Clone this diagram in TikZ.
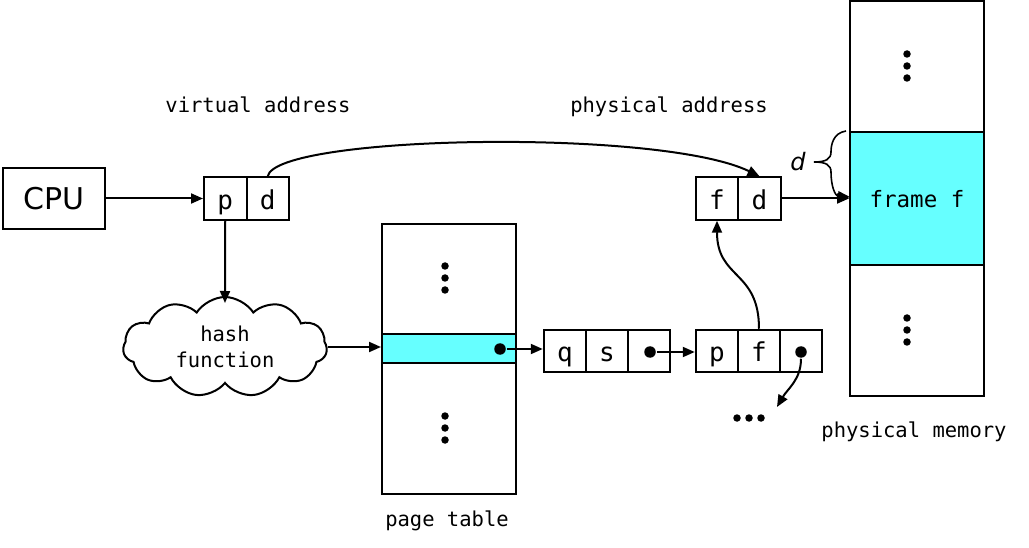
\documentclass[tikz,border=0pt]{standalone}
\usepackage{fontspec}
\setmainfont{DejaVu Sans}
\setmonofont{DejaVu Sans Mono}
\usetikzlibrary{arrows.meta,shapes.symbols}
\definecolor{hilite}{HTML}{66FFFF}
\begin{document}
\begin{tikzpicture}[x=1pt,y=-1pt,
  line width=2pt,
  tip/.style={-{Triangle[length=12pt,width=10pt]}},
  cell/.style={draw, line width=2pt, minimum width=42.5pt, minimum height=42.5pt,
    inner sep=0pt, text height=22pt, text depth=0pt, font=\fontsize{26}{26}\selectfont\ttfamily},
  block/.style={draw, line width=2pt, inner sep=0pt},
  lbl/.style={anchor=base, inner sep=0pt, font=\fontsize{20.5}{24}\selectfont\ttfamily},
  vdot/.style={circle, fill, inner sep=0pt, minimum size=7.5pt},
  ptr/.style={circle, fill, inner sep=0pt, minimum size=11.5pt}]
\useasboundingbox (0,0) rectangle (1029,548);

% CPU
\node[block, minimum width=102pt, minimum height=61pt, font=\fontsize{30}{30}\selectfont] (cpu) at (54,198.5) {CPU};

% virtual address p|d
\node[cell] (vp) at (225.25,198.5) {p};
\node[cell] (vd) at (267.75,198.5) {d};
\node[lbl] (vlabel) at (258,113) {virtual address};

% hash function
\node[cloud, draw, line width=2pt, cloud puffs=11, cloud puff arc=115, aspect=2,
  minimum width=204pt, minimum height=100pt, inner sep=0pt, align=center,
  font=\fontsize{20.5}{25.5}\selectfont\ttfamily] (hash) at (225,347) {hash\\function};

% page table
\node[block, minimum width=134pt, minimum height=270pt] (pt) at (449,359) {};
\node[block, fill=hilite, minimum width=134pt, minimum height=29pt] (row) at (449,348.5) {};
\node[lbl] (ptlabel) at (447,526) {page table};
\node[vdot] (pa1) at (445,266) {};
\node[vdot] (pa2) at (445,278) {};
\node[vdot] (pa3) at (445,290) {};
\node[vdot] (pb1) at (445,416) {};
\node[vdot] (pb2) at (445,428) {};
\node[vdot] (pb3) at (445,440) {};
\node[ptr] (dot1) at (500,349) {};

% chain entries
\node[cell] (q) at (565,351) {q};
\node[cell] (s) at (607,351) {s};
\node[cell] (qn) at (649,351) {};
\node[ptr] (dot2) at (650,352) {};
\node[cell] (p2) at (717,351) {p};
\node[cell] (f2) at (759,351) {f};
\node[cell] (pn) at (801,351) {};
\node[ptr] (dot3) at (801,352) {};
\node[vdot] (m1) at (737,418) {};
\node[vdot] (m2) at (749,418) {};
\node[vdot] (m3) at (761,418) {};
\coordinate (more) at (777,407);

% physical address f|d
\node[cell] (pf) at (717,198.5) {f};
\node[cell] (pd) at (759.5,198.5) {d};
\node[lbl] (plabel) at (669,113) {physical address};

% physical memory
\node[block, minimum width=134pt, minimum height=395pt] (mem) at (917,198.5) {};
\node[block, fill=hilite, minimum width=134pt, minimum height=133pt] (frame) at (917,198.5) {};
\node[lbl, font=\fontsize{22.5}{24}\selectfont\ttfamily] (ftext) at (917,208) {frame f};
\node[vdot] (ma1) at (907,54) {};
\node[vdot] (ma2) at (907,66) {};
\node[vdot] (ma3) at (907,78) {};
\node[vdot] (mb1) at (907,318) {};
\node[vdot] (mb2) at (907,330) {};
\node[vdot] (mb3) at (907,342) {};
\node[lbl] (mlabel) at (914,437) {physical memory};

% offset brace
\node[font=\fontsize{24}{24}\selectfont\itshape, inner sep=0pt] (dlab) at (798,162) {d};
\coordinate (btop) at (846,131);
\coordinate (btip) at (814,162);
\coordinate (bend) at (850,197);

% connectors
\draw[tip] (cpu.east) -- (vp.west);
\draw[tip, shorten >=-7pt] (vp.south) -- (hash.north);
\draw[tip] (hash.east) -- (hash.east -| row.west);
\draw[tip] (dot1) -- (dot1 -| q.west);
\draw[tip] (dot2) -- (dot2 -| p2.west);
\draw[tip] (dot3) to[out=-90,in=60] (more);
\draw[tip] (f2.north) to[out=90,in=-90,looseness=1.3] (pf.south);
\draw[tip] (vd.north) .. controls (276,135) and (660,128) .. (pd.north);
\draw[tip] (pd.east) -- (pd.east -| mem.west);
\draw[line width=1.6pt] (btop) .. controls (833,133) and (831,145) .. (831,152)
  .. controls (831,159) and (826,162) .. (btip);
\draw[tip, line width=1.6pt] (btip) .. controls (826,162) and (831,165) .. (831,172)
  .. controls (831,186) and (835,196) .. (bend);
\end{tikzpicture}
\end{document}
